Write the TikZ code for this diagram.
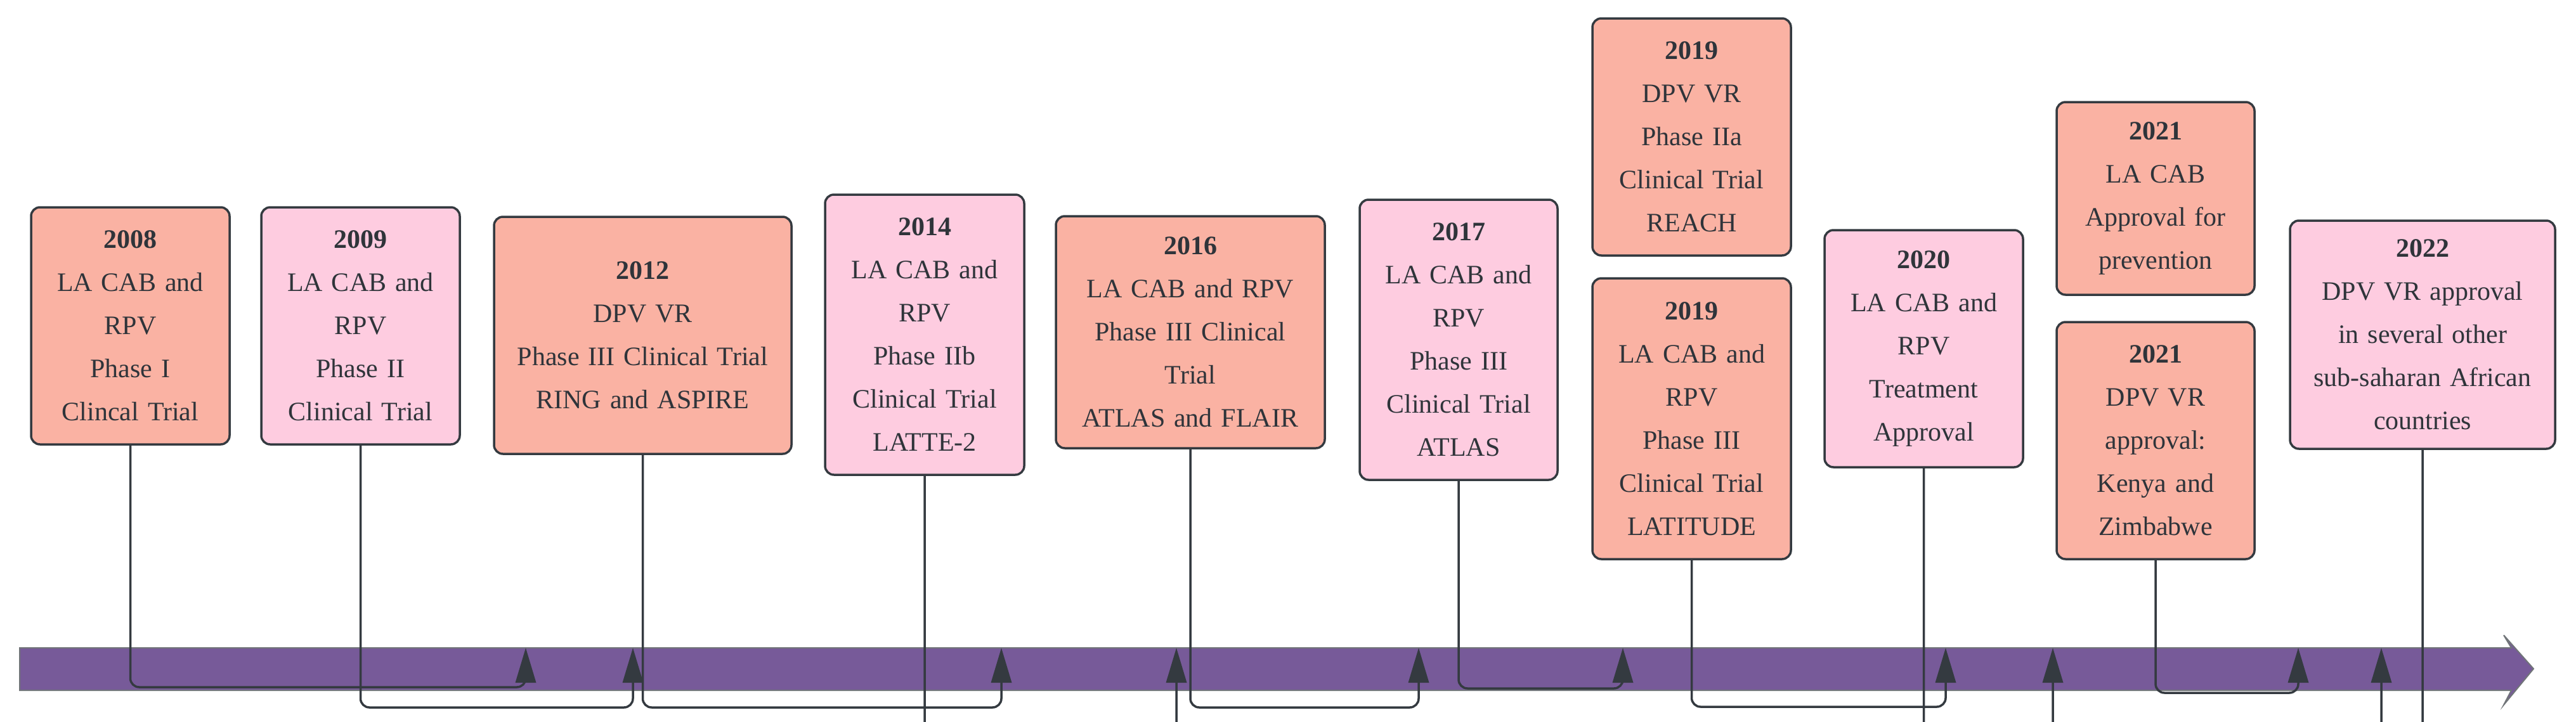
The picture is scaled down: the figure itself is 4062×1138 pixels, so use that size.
\documentclass[tikz,border=0pt]{standalone}
\usepackage{fontspec}
\setmainfont{Liberation Serif}
\usetikzlibrary{arrows.meta}
\definecolor{sal}{HTML}{FAB2A3}
\definecolor{pnk}{HTML}{FECCE0}
\definecolor{edge}{HTML}{343A40}
\definecolor{bar}{HTML}{775A99}
\begin{document}
\begin{tikzpicture}[x=1pt,y=-1pt,
  box/.style={draw=edge,line width=3.5pt,rounded corners=14pt,align=center,inner sep=0pt,
    font=\fontsize{42}{68}\selectfont,text=edge!90!black},
  conn/.style={draw=edge,line width=3.5pt,rounded corners=14pt,-{Triangle[length=55pt,width=32pt]}}]
\useasboundingbox (0,0) rectangle (4062,1138);
\newcommand\bx[8]{\node[box,fill=#2,minimum width=#5-#3,minimum height=#6-#4,text width=#5-#3-10] (#1) at ({(#3+#5)/2},{(#4+#6)/2}) {{\bfseries #7}\\#8};}
\bx{b1}{sal}{49}{327}{362}{701}{2008}{LA CAB and\\RPV\\Phase I\\Clincal Trial}
\bx{b2}{pnk}{412}{327}{725}{701}{2009}{LA CAB and\\RPV\\Phase II\\Clinical Trial}
\bx{b3}{sal}{779}{342}{1248}{716}{2012}{DPV VR\\Phase III Clinical Trial\\RING and ASPIRE}
\bx{b4}{pnk}{1301}{307}{1615}{749}{2014}{LA CAB and\\RPV\\Phase IIb\\Clinical Trial\\LATTE-2}
\bx{b5}{sal}{1665}{341}{2089}{707}{2016}{LA CAB and RPV\\Phase III Clinical\\Trial\\ATLAS and FLAIR}
\bx{b6}{pnk}{2144}{315}{2456}{757}{2017}{LA CAB and\\RPV\\Phase III\\Clinical Trial\\ATLAS}
\bx{b7}{sal}{2511}{29}{2824}{403}{2019}{DPV VR\\Phase IIa\\Clinical Trial\\REACH}
\bx{b8}{sal}{2511}{439}{2824}{882}{2019}{LA CAB and\\RPV\\Phase III\\Clinical Trial\\LATITUDE}
\bx{b9}{pnk}{2877}{363}{3190}{737}{2020}{LA CAB and\\RPV\\Treatment\\Approval}
\bx{b10}{sal}{3243}{161}{3555}{465}{2021}{LA CAB\\Approval for\\prevention}
\bx{b11}{sal}{3243}{508}{3555}{882}{2021}{DPV VR\\approval:\\Kenya and\\Zimbabwe}
\bx{b12}{pnk}{3611}{348}{4029}{708}{2022}{DPV VR approval\\in several other\\sub-saharan African\\countries}
% timeline bar
\fill[bar,draw=edge!70,line width=2pt] (31,1022) -- (3960,1022) -- (3948,1002) -- (3995,1055) -- (3948,1112) -- (3960,1089) -- (31,1089) -- cycle;
\foreach \n/\x in {1/829,2/998,3/1579,4/1855,5/2237,6/2559,7/3068,8/3237,9/3624,10/3755}
  \coordinate (t\n) at (\x,1022);
\draw[conn] (b1.south) |- ([yshift=-62]t1) -- (t1);
\draw[conn] (b2.south) |- ([yshift=-94]t2) -- (t2);
\draw[conn] (b3.south) |- ([yshift=-94]t3) -- (t3);
\draw[conn] (b4.south) |- ([yshift=-135]t4) -- (t4);
\draw[conn] (b5.south) |- ([yshift=-94]t5) -- (t5);
\draw[conn] (b6.south) |- ([yshift=-64]t6) -- (t6);
\draw[conn] (b8.south) |- ([yshift=-93]t7) -- (t7);
\draw[conn] (b9.south) |- ([yshift=-140]t8) -- (t8);
\draw[conn] (b11.south) |- ([yshift=-71]t9) -- (t9);
\draw[conn] (b12.south) |- ([yshift=-158]t10) -- (t10);
\end{tikzpicture}
\end{document}
